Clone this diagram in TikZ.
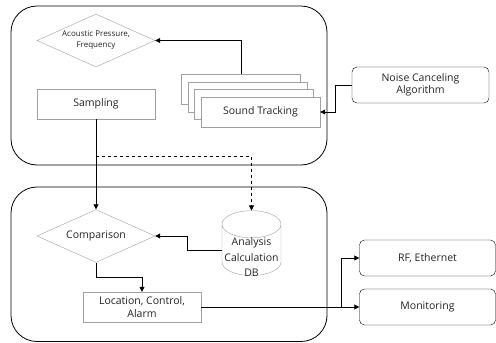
\documentclass[tikz,border=0pt]{standalone}
\usepackage{fontspec}
\setmainfont{Open Sans}
\usetikzlibrary{arrows.meta, shapes.geometric, calc}
\definecolor{boxgray}{RGB}{160,160,160}
\definecolor{textgray}{RGB}{35,35,35}

\begin{document}
\begin{tikzpicture}[x=1pt,y=-1pt,
    grbox/.style={draw=boxgray,fill=white,minimum width=118pt,minimum height=30pt,inner sep=1pt,font=\fontsize{10.5}{12.5}\selectfont,text=textgray,align=center},
    rbox/.style={draw,rounded corners=5pt,minimum width=136pt,minimum height=36pt,inner sep=1pt,font=\fontsize{10.5}{12.5}\selectfont,text=textgray,align=center},
    dia/.style={draw=boxgray,diamond,minimum width=118pt,minimum height=53pt,inner sep=0pt},
    arr/.style={-{Triangle[length=5pt,width=5pt]},line width=0.8pt}]
    \useasboundingbox (0,0) rectangle (496,343);

    % containers
    \draw[line width=0.8pt,rounded corners=26pt] (11,6) rectangle (327,165);
    \draw[line width=0.8pt,rounded corners=26pt] (11,187) rectangle (327,341.5);

    % upper part
    \node[dia,label={[font=\fontsize{8}{11}\selectfont,text=textgray,align=center]center:Acoustic Pressure,\\Frequency}] (acoustic) at (96,40.5) {};
    \node[grbox] (sampling) at (96,104) {Sampling};
    \node[grbox,minimum width=119pt] (st4) at (241,89.5) {};
    \node[grbox,minimum width=119pt] (st3) at (247.5,97) {};
    \node[grbox,minimum width=119pt] (st2) at (254,104.5) {};
    \node[grbox,minimum width=119pt] (st1) at (260.5,112) {Sound Tracking};
    \node[rbox,minimum width=137pt] (noise) at (420.5,85) {Noise Canceling\\Algorithm};

    % lower part
    \node[dia,label={[font=\fontsize{10.5}{12.5}\selectfont,text=textgray]center:Comparison}] (comparison) at (96,236) {};
    \node[draw=boxgray,cylinder,shape border rotate=90,aspect=0.5,minimum width=59pt,inner sep=0pt,
          font=\fontsize{10.5}{15.5}\selectfont,text=textgray] (db) at (251.5,250)
          {\raisebox{-10pt}[13pt][11pt]{\begin{tabular}{@{}c@{}}Analysis\\Calculation\\DB\end{tabular}}};
    \node[grbox] (location) at (142,307) {Location, Control,\\Alarm};
    \node[rbox] (rf) at (427.5,258) {RF, Ethernet};
    \node[rbox] (monitoring) at (427.5,307) {Monitoring};

    % arrows
    \draw[arr] (st4.north) |- (acoustic.east);
    \draw[arr] (noise.west) -- ++(-16,0) |- (st1.east);
    \draw[arr] (sampling.south) -- (comparison.north);
    \coordinate (split) at ($(sampling.south)+(0,37)$);
    \draw[arr,dashed,line width=0.6pt] (split) -| (db.north);
    \draw[arr] (db.west) -- ++(-34,0) |- (comparison.east);
    \draw[arr] (comparison.south) -- ++(0,15) -| (location.north);
    \coordinate (fork) at (341,307);
    \draw[arr] (location.east) -- (monitoring.west);
    \draw[arr] (fork) |- (rf.west);
\end{tikzpicture}
\end{document}
